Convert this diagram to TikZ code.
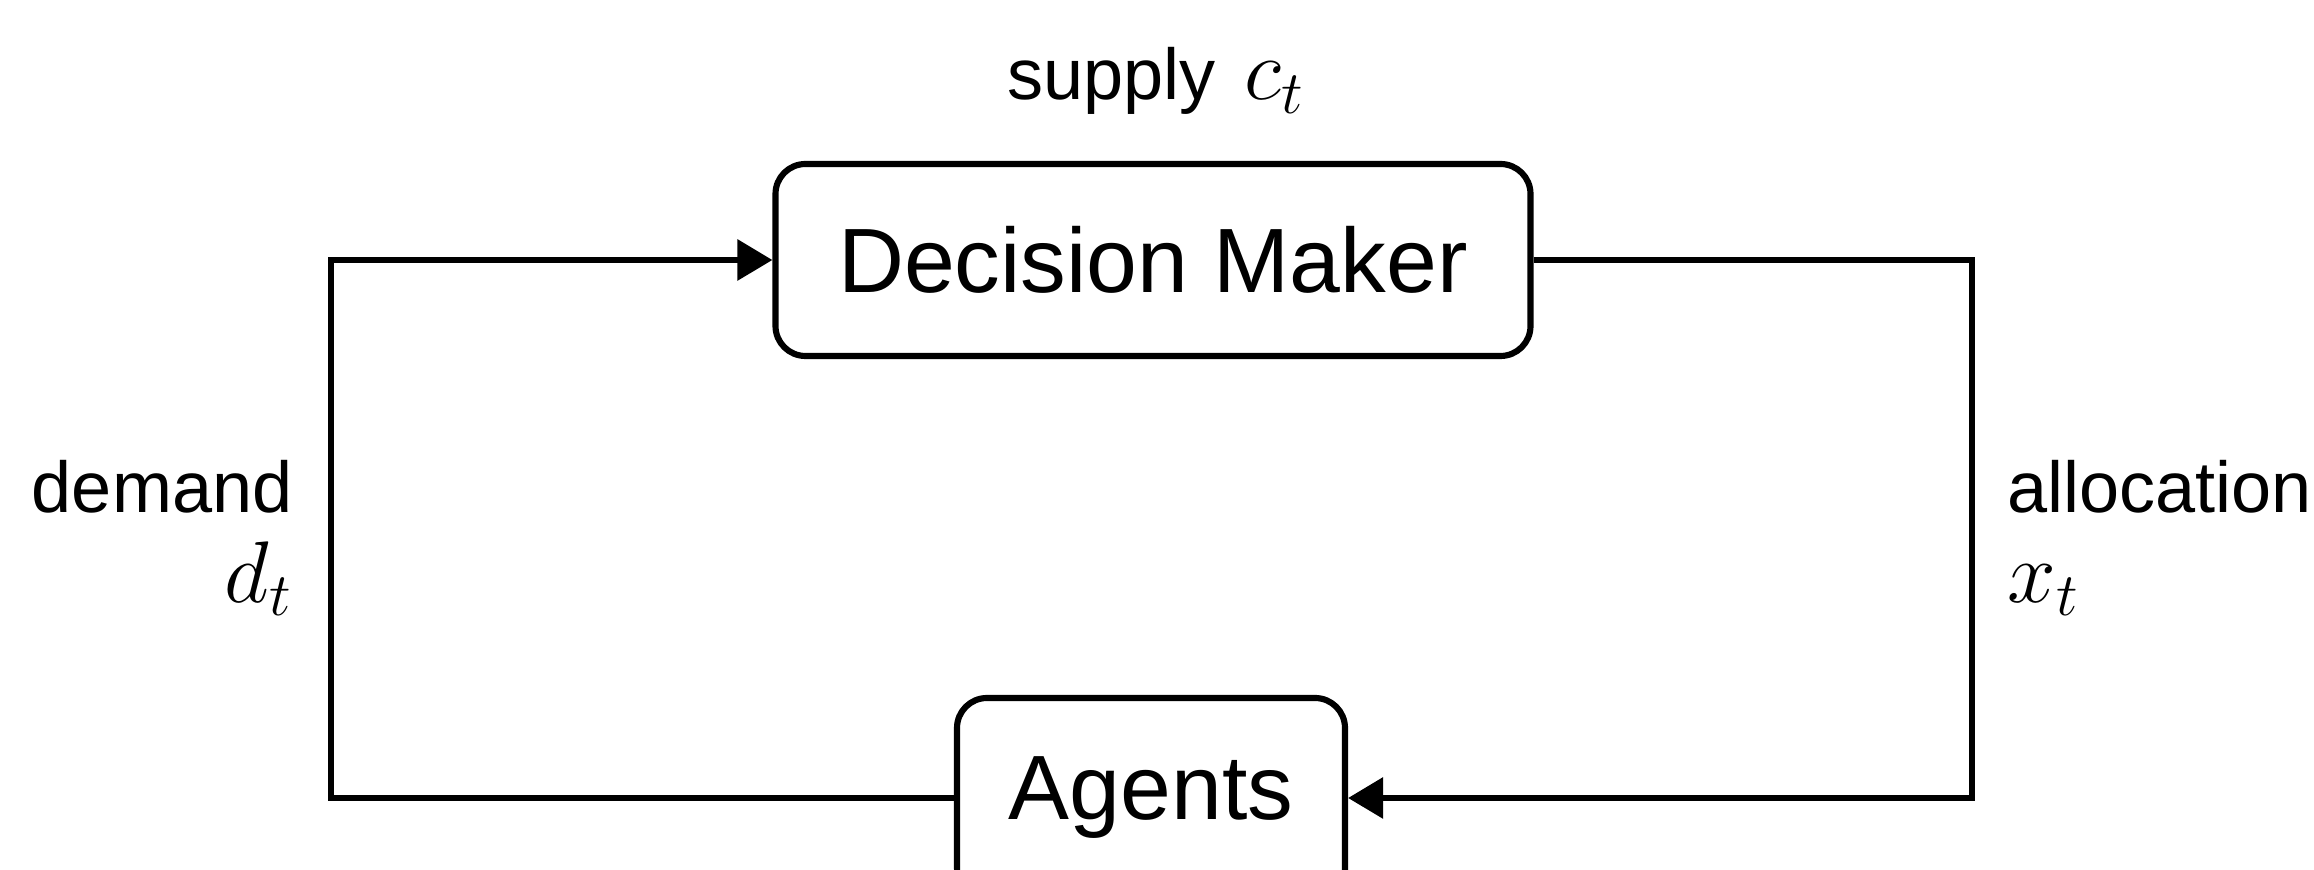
\documentclass[tikz,border=0pt]{standalone}
\usepackage{amsmath,amssymb}
\usepackage{fontspec}
\setmainfont{Liberation Sans}
\usetikzlibrary{arrows.meta,positioning,calc}
\newcommand{\lblmath}[1]{{\fontsize{25pt}{25.5pt}\selectfont$#1$}}

\begin{document}
\begin{tikzpicture}[
  block/.style={draw, line width=1.75pt, rounded corners=0.3cm, fill=white,
    font=\fontsize{26pt}{31pt}\selectfont, inner sep=0pt},
  lbl/.style={font=\fontsize{20.5pt}{25.5pt}\selectfont, inner sep=0pt},
  flow/.style={line width=1.75pt, -{Triangle[length=0.35cm,width=0.4cm]}}
]
\useasboundingbox (0,0) rectangle (23.14,-8.70);
\node[block, minimum width=7.55cm, minimum height=1.92cm] (dm) at (11.53,-2.60) {Decision Maker};
\node[block, minimum width=3.88cm, minimum height=2.0cm] (ag) at (11.51,-7.98) {Agents};
\coordinate (cl) at (3.31,-2.60);
\coordinate (cr) at (19.72,-2.60);
\draw[flow] (ag.west) -| (cl) -- (dm.west);
\draw[flow] (dm.east) -- (cr) |- (ag.east);
\node[lbl, anchor=base] (supply) at (11.56,-1.00) {supply\hspace{0.4em}\lblmath{c_t}};
\node[lbl, anchor=north east, align=right] (demand) at (2.93,-4.60) {demand\\\lblmath{d_t}};
\node[lbl, anchor=north west, align=left] (alloc) at (20.07,-4.60) {allocation\\\lblmath{x_t}};
\end{tikzpicture}
\end{document}
